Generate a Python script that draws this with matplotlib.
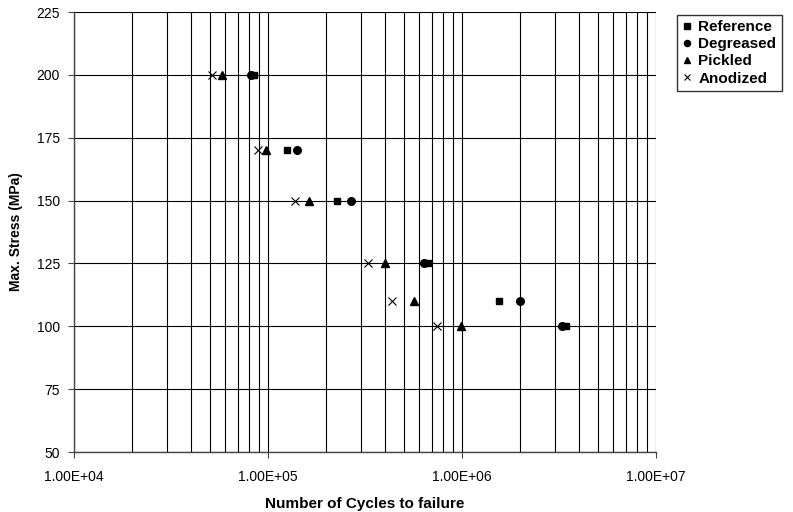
import numpy as np
import matplotlib.pyplot as plt
from matplotlib.ticker import LogLocator, FixedLocator, NullFormatter

plt.rcParams['font.family'] = ['Liberation Sans', 'DejaVu Sans']

# ==========================================
# Data (cycles to failure vs max stress)
# ==========================================
stress = [200, 170, 150, 125, 110, 100]

cycles_reference = [85000, 125000, 228000, 670000, 1553000, 3450000]
cycles_degreased = [82000, 140600, 267000, 640000, 1983000, 3280000]
cycles_pickled = [58000, 98200, 162000, 400000, 566000, 993000]
cycles_anodized = [51300, 88700, 137000, 329000, 437000, 747000]

series_names = ['Reference', 'Degreased', 'Pickled', 'Anodized']
x_ticklabels = ['1.00E+04', '1.00E+05', '1.00E+06', '1.00E+07']

# ==========================================
# Figure
# ==========================================
fig = plt.figure(figsize=(7.93, 5.12), dpi=100)
ax = fig.add_axes([74 / 793, 1 - 452 / 512, (656 - 74) / 793, (452 - 12) / 512])

ax.plot(cycles_reference, stress, linestyle='none', marker='s', markersize=5,
        color='black', label=series_names[0])
ax.plot(cycles_degreased, stress, linestyle='none', marker='o', markersize=5.5,
        color='black', label=series_names[1])
ax.plot(cycles_pickled, stress, linestyle='none', marker='^', markersize=6,
        color='black', label=series_names[2])
ax.plot(cycles_anodized, stress, linestyle='none', marker='x', markersize=6,
        markeredgewidth=0.8, color='black', label=series_names[3])

ax.set_xscale('log')
ax.set_xlim(1e4, 1e7)
ax.set_ylim(50, 225)

ax.xaxis.set_major_locator(FixedLocator([1e4, 1e5, 1e6, 1e7]))
ax.set_xticklabels(x_ticklabels)
ax.xaxis.set_minor_locator(LogLocator(base=10, subs=np.arange(2, 10)))
ax.xaxis.set_minor_formatter(NullFormatter())
ax.set_yticks(np.arange(50, 226, 25))

ax.grid(True, which='both', axis='x', color='black', linewidth=0.8)
ax.grid(True, which='major', axis='y', color='black', linewidth=0.8)
ax.set_axisbelow(True)

for side in ['top', 'right']:
    ax.spines[side].set_visible(False)
for side in ['left', 'bottom']:
    ax.spines[side].set_color('#444444')
    ax.spines[side].set_linewidth(1.0)

ax.tick_params(axis='both', which='major', direction='out', length=4,
               width=0.8, color='#444444', labelsize=10, pad=6)
ax.tick_params(axis='x', which='major', pad=9)
ax.tick_params(axis='x', which='minor', length=0)

ax.set_xlabel('Number of Cycles to failure', fontsize=11, fontweight='bold', labelpad=9)
ax.set_ylabel('Max. Stress (MPa)', fontsize=10, fontweight='bold', labelpad=10)

leg = fig.legend(loc='upper left', bbox_to_anchor=(677 / 793, 1 - 15 / 512),
                 borderaxespad=0, frameon=True, fancybox=False, edgecolor='black',
                 handlelength=0.6, handletextpad=0.45, borderpad=0.35,
                 labelspacing=0.2, prop={'size': 11, 'weight': 'bold'},
                 markerscale=0.8)
leg.get_frame().set_linewidth(1.0)

plt.savefig('out.png', dpi=100)
